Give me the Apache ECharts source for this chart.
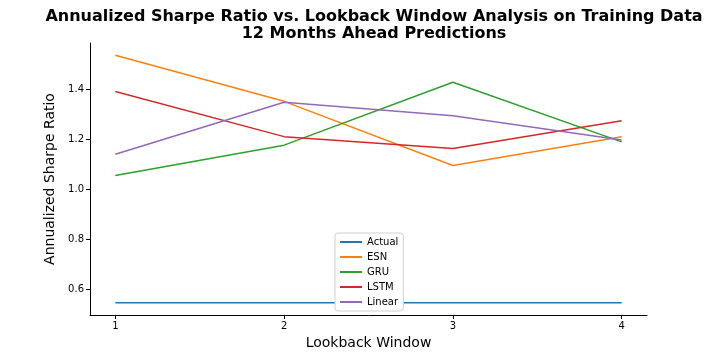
<!DOCTYPE html>
<html>
<head>
<meta charset="utf-8">
<script src="https://cdn.jsdelivr.net/npm/echarts@6/dist/echarts.min.js"></script>
<style>
  html, body { margin: 0; padding: 0; background: #fff; }
  #main { width: 720px; height: 360px; }
</style>
</head>
<body>
<div id="main"></div>
<script>
  // lookback windows on the x axis
  var windows = [1, 2, 3, 4];
  var xTicks = [1, 2, 3, 4];
  var yTicks = [0.6, 0.8, 1.0, 1.2, 1.4];

  // annualized sharpe ratio per model
  var actual = [0.547, 0.547, 0.547, 0.547];
  var esn = [1.535, 1.351, 1.095, 1.210];
  var gru = [1.055, 1.176, 1.427, 1.189];
  var lstm = [1.390, 1.210, 1.163, 1.273];
  var linear = [1.140, 1.347, 1.293, 1.197];

  var names = ['Actual', 'ESN', 'GRU', 'LSTM', 'Linear'];
  var colors = ['#1f77b4', '#ff7f0e', '#2ca02c', '#d62728', '#9467bd'];
  var allSeries = [actual, esn, gru, lstm, linear];

  var font = 'DejaVu Sans';

  function pairs(vals) {
    return windows.map(function (w, i) { return [w, vals[i]]; });
  }

  var series = allSeries.map(function (vals, i) {
    return {
      name: names[i],
      type: 'line',
      data: pairs(vals),
      symbol: 'none',
      lineStyle: { width: 1.5, color: colors[i] },
      itemStyle: { color: colors[i] },
      z: 2 + i
    };
  });

  var chart = echarts.init(document.getElementById('main'));
  chart.setOption({
    backgroundColor: '#fff',
    animation: false,
    title: {
      text: 'Annualized Sharpe Ratio vs. Lookback Window Analysis on Training Data\n12 Months Ahead Predictions',
      left: 369,
      top: 3,
      textAlign: 'center',
      textStyle: { fontFamily: font, fontSize: 16, fontWeight: 'bold', color: '#000', lineHeight: 17 }
    },
    grid: { left: 90, right: 73, top: 43, bottom: 45 },
    legend: {
      orient: 'vertical',
      left: 335,
      top: 233,
      data: names,
      itemWidth: 22,
      itemHeight: 2,
      itemGap: 5,
      icon: 'rect',
      padding: [4, 5, 4, 5],
      backgroundColor: '#fff',
      borderColor: '#d0d0d0',
      borderWidth: 1,
      borderRadius: 3,
      textStyle: { fontFamily: font, fontSize: 10, color: '#000' }
    },
    xAxis: {
      type: 'value',
      min: 0.85,
      max: 4.15,
      name: 'Lookback Window',
      nameLocation: 'middle',
      nameGap: 20,
      nameTextStyle: { fontFamily: font, fontSize: 14, color: '#000' },
      axisLine: { onZero: false, lineStyle: { color: '#000', width: 1 } },
      axisTick: { show: true, inside: false, length: 4, customValues: xTicks, lineStyle: { color: '#000' } },
      axisLabel: { customValues: xTicks, fontFamily: font, fontSize: 10, color: '#000', margin: 6 },
      splitLine: { show: false }
    },
    yAxis: {
      type: 'value',
      min: 0.4976,
      max: 1.584,
      name: 'Annualized Sharpe Ratio',
      nameLocation: 'middle',
      nameGap: 28,
      nameTextStyle: { fontFamily: font, fontSize: 14, color: '#000' },
      axisLine: { show: true, onZero: false, lineStyle: { color: '#000', width: 1 } },
      axisTick: { show: true, inside: false, length: 4, customValues: yTicks, lineStyle: { color: '#000' } },
      axisLabel: {
        customValues: yTicks, fontFamily: font, fontSize: 10, color: '#000', margin: 6,
        formatter: function (v) { return v.toFixed(1); }
      },
      splitLine: { show: false }
    },
    series: series
  });
</script>
</body>
</html>
